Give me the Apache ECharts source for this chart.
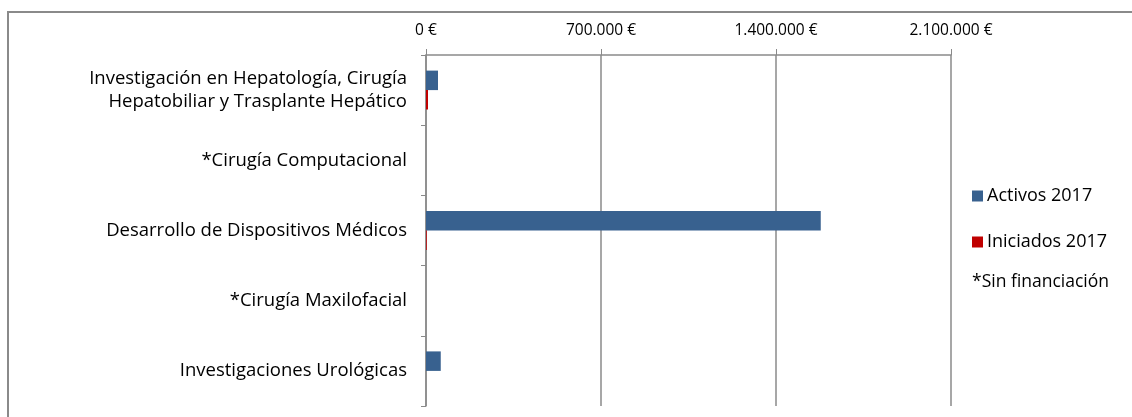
<!DOCTYPE html>
<html>
<head>
<meta charset="utf-8">
<script src="https://cdn.jsdelivr.net/npm/echarts@6/dist/echarts.min.js"></script>
<style>
  html, body { margin: 0; padding: 0; background: #fff; }
  #chart { width: 1132px; height: 417px; }
</style>
</head>
<body>
<div id="chart"></div>
<script>
// categorías (de arriba a abajo)
const categories = [
  'Investigación en Hepatología, Cirugía\nHepatobiliar y Trasplante Hepático',
  '*Cirugía Computacional',
  'Desarrollo de Dispositivos Médicos',
  '*Cirugía Maxilofacial',
  'Investigaciones Urológicas'
]
const activos2017 = [48000, 0, 1579000, 0, 59000]
const iniciados2017 = [8000, 0, 3000, 0, 0]
const seriesNames = ['Activos 2017', 'Iniciados 2017']
const noteText = '*Sin financiación'

const fontFamily = '"Open Sans", "Noto Sans", sans-serif'

// 1.400.000 €
const fmtEuro = (v) => String(v).replace(/\B(?=(\d{3})+(?!\d))/g, '.') + ' €'

const chart = echarts.init(document.getElementById('chart'))

const option = {
  animation: false,
  textStyle: { fontFamily },
  grid: {
    left: 426,
    top: 55,
    right: 181,
    bottom: 11
  },
  legend: {
    data: seriesNames,
    orient: 'vertical',
    left: 972,
    top: 187,
    padding: 0,
    itemWidth: 11,
    itemHeight: 11,
    itemGap: 28,
    icon: 'rect',
    textStyle: { fontSize: 18, lineHeight: 18, color: '#000', fontFamily, padding: [0, 0, 0, -1] }
  },
  graphic: [
    {
      type: 'rect',
      silent: true,
      shape: { x: 8, y: 12, width: 1140, height: 420 },
      style: { fill: 'none', stroke: '#8a8a8a', lineWidth: 2 }
    },
    {
      type: 'text',
      left: 972,
      top: 273,
      style: { text: noteText, fontSize: 17.5, fill: '#000', fontFamily }
    }
  ],
  xAxis: {
    type: 'value',
    position: 'top',
    min: 0,
    max: 2100000,
    interval: 700000,
    axisLine: { show: true, lineStyle: { color: '#8a8a8a', width: 1.5 } },
    axisTick: { show: true, length: 6, lineStyle: { color: '#8a8a8a' } },
    splitLine: { show: true, lineStyle: { color: '#8a8a8a', width: 1.5 } },
    axisLabel: {
      formatter: fmtEuro,
      fontSize: 15.5,
      color: '#000',
      margin: 16
    }
  },
  yAxis: {
    type: 'category',
    inverse: true,
    data: categories,
    axisLine: { show: true, lineStyle: { color: '#8a8a8a', width: 1.5 } },
    axisTick: { show: true, length: 5, lineStyle: { color: '#8a8a8a' } },
    axisLabel: {
      fontSize: 18.5,
      lineHeight: 23,
      color: '#000',
      margin: 19,
      align: 'right'
    }
  },
  series: [
    {
      name: seriesNames[0],
      type: 'bar',
      data: activos2017,
      barWidth: 19.5,
      barGap: '0%',
      itemStyle: { color: '#38618f' }
    },
    {
      name: seriesNames[1],
      type: 'bar',
      data: iniciados2017,
      barWidth: 19.5,
      itemStyle: { color: '#c00000' }
    }
  ]
}

chart.setOption(option)

window.addEventListener('resize', () => {
  chart.resize()
})
</script>
</body>
</html>
